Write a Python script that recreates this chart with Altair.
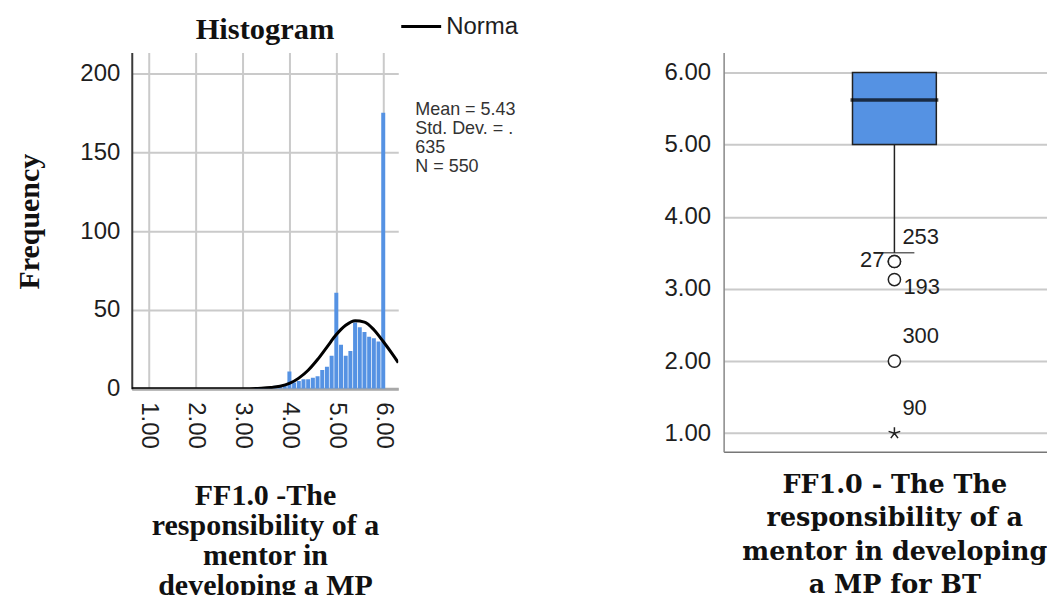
import altair as alt
import pandas as pd

# ---------------- data ----------------
hist_values = [3.3, 3.4, 3.5, 3.6, 3.7, 3.8, 3.9, 4.0, 4.1, 4.2, 4.3, 4.4, 4.5, 4.6,
               4.7, 4.8, 4.9, 5.0, 5.1, 5.2, 5.3, 5.4, 5.5, 5.6, 5.7, 5.8, 5.9, 6.0]
hist_counts = [1, 1, 1, 1, 2, 2, 2, 11, 4, 5, 6, 6, 7, 8,
               12, 14, 21, 61, 28, 21, 24, 42, 39, 36, 33, 32, 30, 175]
curve_x = [0.64, 1.0, 2.0, 3.0, 3.4, 3.6, 3.8, 4.0, 4.2, 4.4, 4.6, 4.8, 5.0,
           5.2, 5.4, 5.6, 5.8, 6.0, 6.2, 6.32]
curve_y = [0, 0, 0, 0.1, 0.4, 0.8, 1.6, 3.4, 6.8, 11.8, 18.6, 26.5, 34.4,
           40.3, 43.2, 42.3, 37.5, 30.0, 21.8, 16.6]
hist_x_ticks = [1, 2, 3, 4, 5, 6]
hist_y_ticks = [0, 50, 100, 150, 200]
legend_label = "Norma"
stats_lines = ["Mean = 5.43", "Std. Dev. = .", "635", "N = 550"]
hist_title = "Histogram"
hist_x_title = ["FF1.0 -The", "responsibility of a", "mentor in", "developing a MP"]
hist_y_title = "Frequency"

box_category = ["FF1.0"]
box_q1 = [5.0]
box_q3 = [6.0]
box_median = [5.62]
whisker_low = [3.5]
outlier_values = [3.38, 3.38, 3.13, 2.00]
outlier_ids = ["27", "253", "193", "300"]
extreme_values = [1.00]
extreme_ids = ["90"]
labels_above = ["253", "300", "90"]
labels_below = ["193"]
labels_left = ["27"]
box_y_ticks = [1, 2, 3, 4, 5, 6]
box_x_title = ["FF1.0 - The The", "responsibility of a", "mentor in developing", "a MP for BT"]

# ---------------- styles ----------------
SANS = "Liberation Sans"
SERIF = "Liberation Serif"
SERIF2 = "DejaVu Serif"
BLUE = "#5592e3"
GRID = "#cacaca"
TXT = "#1e1e1e"
ASTERISK = "M0,0L0,-1M0,0L0.951,-0.309M0,0L0.588,0.809M0,0L-0.588,0.809M0,0L-0.951,-0.309"
LONG_STROKE = "M-4,0H4"

# ---------------- histogram ----------------
hist_df = pd.DataFrame({"value": hist_values, "count": hist_counts})
curve_df = pd.DataFrame({"x": curve_x, "y": curve_y, "series": [legend_label] * len(curve_x)})
one_row = pd.DataFrame({"k": [0]})

xs = alt.Scale(domain=[0.64, 6.32], nice=False, zero=False, padding=0)
ys = alt.Scale(domain=[0, 213.3], nice=False)

x_axis = alt.Axis(values=hist_x_ticks, format=".2f", labelAngle=90, labelFont=SANS,
                  labelFontSize=24, labelColor=TXT, labelPadding=13, ticks=False,
                  grid=True, gridColor=GRID, gridWidth=2, domain=True,
                  domainColor="#a8a8a8", domainWidth=3, title=hist_x_title,
                  titleFont=SERIF, titleFontSize=30, titleFontWeight="bold",
                  titleColor="#111", titleLineHeight=30, titleX=133.5, titleY=116,
                  titleAlign="center", titleBaseline="alphabetic")
y_axis = alt.Axis(values=hist_y_ticks, labelFont=SANS, labelFontSize=24, labelColor=TXT,
                  labelPadding=12, ticks=False, grid=True, gridColor=GRID, gridWidth=2,
                  domain=True, domainColor="#3a3a3a", domainWidth=2, title=hist_y_title,
                  titleFont=SERIF, titleFontSize=30, titleFontWeight="bold",
                  titleColor="#111", titleX=-93, titleY=169, titleAlign="center",
                  titleBaseline="alphabetic", titleAngle=270)

bars = alt.Chart(hist_df).mark_bar(size=4, color=BLUE, clip=True).encode(
    x=alt.X("value:Q", scale=xs, axis=x_axis),
    y=alt.Y("count:Q", scale=ys, axis=y_axis),
)

curve = alt.Chart(curve_df).mark_line(strokeWidth=3, interpolate="monotone", clip=True).encode(
    x=alt.X("x:Q", scale=xs),
    y=alt.Y("y:Q", scale=ys),
    color=alt.Color("series:N", scale=alt.Scale(range=["#000000"]),
                    legend=alt.Legend(orient="none", legendX=278, legendY=-38,
                                      symbolType=LONG_STROKE, symbolStrokeWidth=3,
                                      symbolSize=100, labelFont=SANS, labelFontSize=24,
                                      labelColor=TXT, labelOffset=13, title=None,
                                      padding=0)),
)

stats = alt.Chart(one_row).mark_text(
    align="left", baseline="top", font=SANS, fontSize=18, lineHeight=19, color="#333"
).encode(x=alt.value(284), y=alt.value(49), text=alt.value(stats_lines))

title_txt = alt.Chart(one_row).mark_text(
    align="center", baseline="alphabetic", font=SERIF, fontSize=30.5, fontWeight="bold",
    color="#111"
).encode(x=alt.value(133.5), y=alt.value(-14), text=alt.value(hist_title))

left = alt.layer(bars, curve, stats, title_txt).properties(width=267, height=337)

# ---------------- boxplot ----------------
box_df = pd.DataFrame({"cat": box_category, "q1": box_q1, "q3": box_q3,
                       "median": box_median, "low": whisker_low})
pts_df = pd.DataFrame({"cat": box_category * len(outlier_values),
                       "value": outlier_values, "id": outlier_ids})
ext_df = pd.DataFrame({"cat": box_category * len(extreme_values),
                       "value": extreme_values, "id": extreme_ids})
lab_df = pd.concat([pts_df, ext_df], ignore_index=True)

# band placement: box spans 127..215 px of the 324 px wide panel
xb = alt.Scale(domain=box_category, paddingInner=0.3, paddingOuter=1, align=0.538)
yb = alt.Scale(domain=[0.744, 6.277], nice=False, zero=False)

bx_axis = alt.Axis(labels=False, ticks=False, domain=True, domainColor="#777",
                   domainWidth=1.5, grid=False, title=box_x_title, titleFont=SERIF2,
                   titleFontSize=25.5, titleFontWeight="bold", titleColor="#111",
                   titleLineHeight=33.3, titleX=171, titleY=41, titleAlign="center",
                   titleBaseline="alphabetic")
by_axis = alt.Axis(values=box_y_ticks, format=".2f", labelFont=SANS, labelFontSize=24,
                   labelColor=TXT, labelPadding=13, ticks=False, grid=True,
                   gridColor=GRID, gridWidth=2, domain=True, domainColor="#888",
                   domainWidth=1.5, title=None)

whisker = alt.Chart(box_df).mark_rule(color="#222", strokeWidth=1.5).encode(
    x=alt.X("cat:N", scale=xb, axis=bx_axis),
    y=alt.Y("low:Q", scale=yb, axis=by_axis),
    y2="q1:Q",
)
box = alt.Chart(box_df).mark_bar(color=BLUE, stroke="#222", strokeWidth=1.5).encode(
    x=alt.X("cat:N", scale=xb), y=alt.Y("q1:Q", scale=yb), y2="q3:Q")
median = alt.Chart(box_df).mark_tick(color="#000", size=88, thickness=3.5).encode(
    x=alt.X("cat:N", scale=xb), y=alt.Y("median:Q", scale=yb))
cap = alt.Chart(box_df).mark_tick(color="#222", size=40, thickness=1.5).encode(
    x=alt.X("cat:N", scale=xb), y=alt.Y("low:Q", scale=yb))
circles = alt.Chart(pts_df).mark_point(shape="circle", size=150, filled=True, fill="white",
                                       stroke="#222", strokeWidth=1.5, opacity=1).encode(
    x=alt.X("cat:N", scale=xb), y=alt.Y("value:Q", scale=yb))
stars = alt.Chart(ext_df).mark_point(shape=ASTERISK, size=150, filled=False,
                                     stroke="#222", strokeWidth=1.5, opacity=1).encode(
    x=alt.X("cat:N", scale=xb), y=alt.Y("value:Q", scale=yb))


def id_labels(ids, **kw):
    return alt.Chart(lab_df).transform_filter(
        alt.FieldOneOfPredicate(field="id", oneOf=ids)
    ).mark_text(font=SANS, fontSize=22, color=TXT, baseline="middle", **kw).encode(
        x=alt.X("cat:N", scale=xb), y=alt.Y("value:Q", scale=yb), text="id:N")


lab_above = id_labels(labels_above, align="left", dx=8, dy=-25)
lab_below = id_labels(labels_below, align="left", dx=9, dy=7)
lab_left = id_labels(labels_left, align="right", dx=-10, dy=-2)

right = alt.layer(whisker, box, median, cap, circles, stars,
                  lab_above, lab_below, lab_left).properties(width=324, height=400)

chart = alt.hconcat(left, right, spacing=326, bounds="flush").configure_view(
    stroke=None
).properties(padding={"left": 7, "top": 6, "right": 0, "bottom": -6})

chart.save("out.html", embed_options={"renderer": "svg", "actions": False})
